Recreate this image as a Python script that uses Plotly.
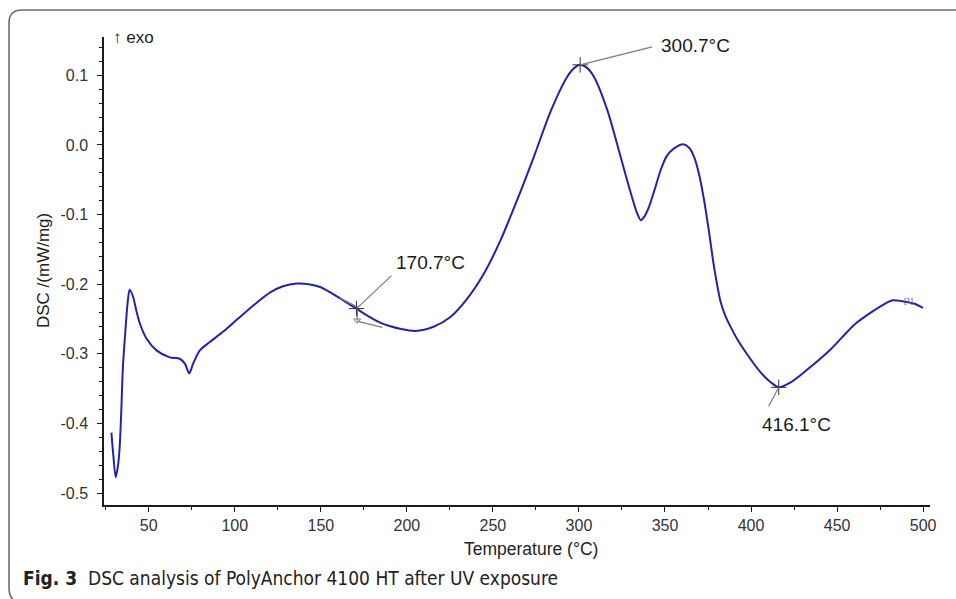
import plotly.graph_objects as go

# ---------------- data ----------------
temperature = [28.3, 29.5, 30.8, 32.0, 33.1, 34.0, 35.0, 36.6, 37.8, 38.9, 40.9, 42.8, 44.8,
               48.7, 54.5, 62.2, 68.0, 71.0, 73.5, 75.8, 79.7, 85.5, 93.3, 103.0, 112.0,
               120.4, 128.0, 136.0, 143.0, 149.6, 155.0, 161.0, 166.0, 170.7, 177.0, 184.5,
               190.0, 196.1, 204.9, 215.5, 225.3, 235.0, 244.7, 254.4, 264.1, 273.8, 283.5,
               293.2, 297.5, 300.7, 304.5, 308.7, 316.5, 324.2, 330.0, 333.8, 335.9, 338.0,
               340.7, 344.0, 347.5, 351.0, 355.3, 360.6, 364.0, 366.9, 369.8, 372.7, 375.6,
               378.5, 382.4, 385.0, 388.3, 392.0, 397.0, 405.7, 411.6, 416.1, 423.0, 432.0,
               446.5, 453.0, 460.0, 470.0, 478.5, 482.4, 489.2, 495.0, 499.9]
dsc = [-0.413, -0.448, -0.477, -0.463, -0.434, -0.385, -0.319, -0.261, -0.225, -0.208, -0.218,
       -0.238, -0.256, -0.278, -0.295, -0.305, -0.307, -0.314, -0.328, -0.314, -0.295, -0.283,
       -0.268, -0.247, -0.228, -0.212, -0.203, -0.199, -0.200, -0.204, -0.211, -0.220, -0.228,
       -0.235, -0.245, -0.255, -0.260, -0.264, -0.267, -0.261, -0.247, -0.221, -0.185, -0.137,
       -0.079, -0.017, 0.048, 0.098, 0.111, 0.115, 0.111, 0.098, 0.050, -0.017, -0.068, -0.098,
       -0.108, -0.103, -0.089, -0.064, -0.036, -0.016, -0.005, 0.001, -0.004, -0.017, -0.042,
       -0.079, -0.125, -0.175, -0.226, -0.245, -0.262, -0.279, -0.298, -0.327, -0.341, -0.348,
       -0.341, -0.324, -0.293, -0.276, -0.258, -0.240, -0.227, -0.223, -0.225, -0.228, -0.234]

mark_T = [170.7, 300.7, 416.1]
mark_v = [-0.235, 0.115, -0.348]
mark_labels = ["170.7°C", "300.7°C", "416.1°C"]

# onset construction (tangent lines) at 170.7 °C
onset_T1 = [161.2, 171.7]
onset_v1 = [-0.220, -0.233]
onset_Tv = [171.4, 171.1]
onset_vv = [-0.236, -0.252]
onset_T2 = [171.1, 185.7]
onset_v2 = [-0.253, -0.262]

x_tickvals = [50, 100, 150, 200, 250, 300, 350, 400, 450, 500]
x_ticktext = ["50", "100", "150", "200", "250", "300", "350", "400", "450", "500"]
y_tickvals = [0.1, 0.0, -0.1, -0.2, -0.3, -0.4, -0.5]
y_ticktext = ["0.1", "0.0", "-0.1", "-0.2", "-0.3", "-0.4", "-0.5"]

# ---------------- layout geometry (pixels) ----------------
W, H = 956, 599
L, R, T, B = 104, 930, 37, 505
PW, PH = R - L, B - T


def px(xp):
    return (xp - L) / PW


def py(yp):
    return (B - yp) / PH


FONT = "Liberation Sans, Arial, sans-serif"
BLUE = "#2323a8"
GREY = "#7a7a8a"

fig = go.Figure()

fig.add_trace(go.Scatter(x=temperature, y=dsc, mode="lines",
                         line=dict(color=BLUE, width=2, shape="spline", smoothing=0.8),
                         hoverinfo="skip", showlegend=False))

for tx, ty in [(onset_T1, onset_v1), (onset_Tv, onset_vv), (onset_T2, onset_v2)]:
    fig.add_trace(go.Scatter(x=tx, y=ty, mode="lines", line=dict(color=GREY, width=1.2),
                             showlegend=False, hoverinfo="skip"))
fig.add_trace(go.Scatter(x=[onset_Tv[1]], y=[onset_vv[1]], mode="markers",
                         marker=dict(symbol="triangle-down-open", size=6, color=GREY,
                                     line=dict(width=1, color=GREY)),
                         showlegend=False, hoverinfo="skip"))

fig.add_trace(go.Scatter(x=mark_T, y=mark_v, mode="markers",
                         marker=dict(symbol="cross-thin", size=11,
                                     line=dict(width=1, color="#333333")),
                         showlegend=False, hoverinfo="skip"))

# leader lines (pixel offsets from the marked point)
leaders = [(35, 33), (72, 18), (-10, -19)]
for (lx, ly), xt, yv in zip(leaders, mark_T, mark_v):
    fig.add_shape(type="line", xref="x", yref="y", xsizemode="pixel", ysizemode="pixel",
                  xanchor=xt, yanchor=yv, x0=0, y0=0, x1=lx, y1=ly,
                  line=dict(color=GREY, width=1.2))

label_pos = [(430, 262), (695, 45), (796, 424)]
for (lx, ly), txt in zip(label_pos, mark_labels):
    fig.add_annotation(x=px(lx), y=py(ly), xref="paper", yref="paper", text=txt,
                       showarrow=False, xanchor="center", yanchor="middle",
                       font=dict(family=FONT, size=19, color="#1a1a1a"))

fig.add_annotation(x=px(915), y=py(300), xref="paper", yref="paper", text="[1]",
                   showarrow=False, font=dict(family=FONT, size=8, color="#5a5a8a"))

fig.add_annotation(x=px(111), y=py(37), xref="paper", yref="paper", text="↑ exo",
                   showarrow=False, xanchor="left", yanchor="middle",
                   font=dict(family="Liberation Sans, DejaVu Sans, sans-serif", size=17,
                             color="#222222"))

fig.add_annotation(x=px(43), y=py(271), xref="paper", yref="paper", text="DSC /(mW/mg)",
                   showarrow=False, textangle=-90, xanchor="center", yanchor="middle",
                   font=dict(family=FONT, size=17, color="#222222"))

fig.add_annotation(x=px(531), y=py(549), xref="paper", yref="paper", text="Temperature (°C)",
                   showarrow=False, xanchor="center", yanchor="middle",
                   font=dict(family=FONT, size=17.5, color="#222222"))

fig.add_annotation(x=px(21), y=py(578), xref="paper", yref="paper",
                   text="<b>Fig. 3</b>  DSC analysis of PolyAnchor 4100 HT after UV exposure",
                   showarrow=False, xanchor="left", yanchor="middle",
                   font=dict(family="Liberation Sans Narrow, DejaVu Sans Condensed, Roboto, sans-serif",
                             size=19, color="#222222"))

# rounded frame
frame = (f"M {px(965)},{py(10)} L {px(22)},{py(10)} Q {px(9)},{py(10)} {px(9)},{py(23)} "
         f"L {px(9)},{py(588)} Q {px(9)},{py(603)} {px(24)},{py(603)} L {px(965)},{py(603)}")
fig.add_shape(type="path", xref="paper", yref="paper", path=frame,
              line=dict(color="#6e6e6e", width=1.6), layer="below")

fig.update_layout(
    width=W, height=H,
    margin=dict(l=L, r=W - R, t=T, b=H - B),
    paper_bgcolor="white", plot_bgcolor="white",
    showlegend=False,
    xaxis=dict(range=[24, 504], tickvals=x_tickvals, ticktext=x_ticktext,
               showgrid=False, zeroline=False, showline=True, linecolor="#1a1a1a", linewidth=1.5,
               ticks="outside", ticklen=5, tickwidth=1.3, tickcolor="#1a1a1a",
               tickfont=dict(family=FONT, size=16, color="#333333"),
               minor=dict(dtick=25, tick0=0, ticks="outside", ticklen=3, tickcolor="#1a1a1a",
                          showgrid=False)),
    yaxis=dict(range=[-0.517, 0.155], tickvals=y_tickvals, ticktext=y_ticktext,
               showgrid=False, zeroline=False, showline=True, linecolor="#1a1a1a", linewidth=1.5,
               ticks="outside", ticklen=5, tickwidth=1.3, tickcolor="#1a1a1a",
               ticklabelstandoff=6,
               tickfont=dict(family=FONT, size=16, color="#333333"),
               minor=dict(dtick=0.02, tick0=0, ticks="outside", ticklen=3, tickcolor="#1a1a1a",
                          showgrid=False)),
)

fig.write_html("out.html", config={"displayModeBar": False},
               post_script="document.body.style.margin='0';document.body.style.overflow='hidden';")
